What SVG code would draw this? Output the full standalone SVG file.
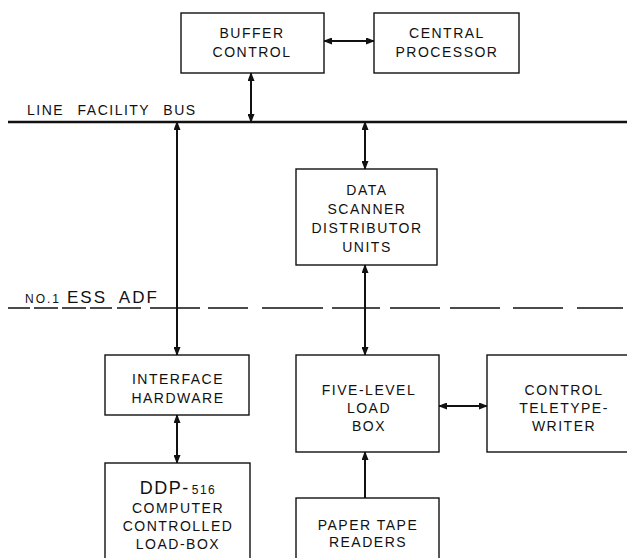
<svg xmlns="http://www.w3.org/2000/svg" width="627" height="558" viewBox="0 0 627 558">
<style>
.box{fill:#fff;stroke:#111;stroke-width:1.4}
.t{font-family:"Liberation Sans",Arial,sans-serif;font-size:14px;letter-spacing:1.5px;fill:#111;text-anchor:middle}
.lbl{font-family:"Liberation Sans",Arial,sans-serif;fill:#111;letter-spacing:1.5px}
.c{stroke:#111;stroke-width:2;fill:none}
.bus{stroke:#111;stroke-width:2.4;fill:none}
.dash{stroke:#111;stroke-width:1.5;fill:none}
</style>
<defs>
<marker id="ah" markerUnits="userSpaceOnUse" markerWidth="9" markerHeight="7" refX="8" refY="3.5" orient="auto-start-reverse">
<path d="M0,0 L9,3.5 L0,7 z" fill="#111"/>
</marker>
</defs>
<rect width="627" height="558" fill="#fff"/>
<g id="line-facility-bus">
<line class="bus" x1="8" y1="122" x2="627" y2="122"/>
<text class="lbl" x="27" y="115" font-size="14" word-spacing="8">LINE FACILITY BUS</text>
</g>
<g id="ess-adf-boundary">
<path class="dash" d="M8,308 H30 M34,308 H58 M62,308 H86 M90,308 H112 M117,308 H141 M150,308 H200 M208,308 H248 M262,308 H323 M332,308 H380 M390,308 H440 M450,308 H500 M513,308 H563 M577,308 H623"/>
<text class="lbl" x="25" y="303"><tspan font-size="12" letter-spacing="2">NO.1</tspan><tspan font-size="17" dx="6" letter-spacing="2" word-spacing="6">ESS ADF</tspan></text>
</g>
<g id="connectors">
<line class="c" x1="324" y1="41" x2="374" y2="41" marker-start="url(#ah)" marker-end="url(#ah)"/>
<line class="c" x1="251" y1="73" x2="251" y2="122" marker-start="url(#ah)" marker-end="url(#ah)"/>
<line class="c" x1="177" y1="122" x2="177" y2="355" marker-start="url(#ah)" marker-end="url(#ah)"/>
<line class="c" x1="365" y1="122" x2="365" y2="169" marker-start="url(#ah)" marker-end="url(#ah)"/>
<line class="c" x1="365" y1="265" x2="365" y2="355" marker-start="url(#ah)" marker-end="url(#ah)"/>
<line class="c" x1="439" y1="406" x2="487" y2="406" marker-start="url(#ah)" marker-end="url(#ah)"/>
<line class="c" x1="177" y1="415" x2="177" y2="463" marker-start="url(#ah)" marker-end="url(#ah)"/>
<line class="c" x1="365" y1="498" x2="365" y2="452" marker-end="url(#ah)"/>
</g>
<g id="buffer-control">
<rect class="box" x="181" y="13" width="143" height="60"/>
<text class="t" x="252" y="38">BUFFER</text>
<text class="t" x="252" y="57">CONTROL</text>
</g>
<g id="central-processor">
<rect class="box" x="374" y="13" width="145" height="60"/>
<text class="t" x="447" y="38">CENTRAL</text>
<text class="t" x="447" y="57">PROCESSOR</text>
</g>
<g id="data-scanner">
<rect class="box" x="296" y="169" width="141" height="96"/>
<text class="t" x="367" y="195">DATA</text>
<text class="t" x="367" y="214">SCANNER</text>
<text class="t" x="367" y="233">DISTRIBUTOR</text>
<text class="t" x="367" y="252">UNITS</text>
</g>
<g id="interface-hardware">
<rect class="box" x="105" y="355" width="144" height="60"/>
<text class="t" x="178" y="384">INTERFACE</text>
<text class="t" x="178" y="403">HARDWARE</text>
</g>
<g id="five-level-load-box">
<rect class="box" x="296" y="355" width="143" height="97"/>
<text class="t" x="369" y="395">FIVE-LEVEL</text>
<text class="t" x="369" y="413">LOAD</text>
<text class="t" x="369" y="431">BOX</text>
</g>
<g id="control-teletypewriter">
<rect class="box" x="487" y="355" width="160" height="97"/>
<text class="t" x="564" y="395">CONTROL</text>
<text class="t" x="564" y="413">TELETYPE-</text>
<text class="t" x="564" y="431">WRITER</text>
</g>
<g id="ddp-516">
<rect class="box" x="105" y="463" width="145" height="110"/>
<text class="t" x="178" y="494"><tspan font-size="18">DDP-</tspan><tspan font-size="12" dx="2">516</tspan></text>
<text class="t" x="178" y="513">COMPUTER</text>
<text class="t" x="178" y="531">CONTROLLED</text>
<text class="t" x="178" y="549">LOAD-BOX</text>
</g>
<g id="paper-tape-readers">
<rect class="box" x="296" y="498" width="143" height="80"/>
<text class="t" x="368" y="530">PAPER TAPE</text>
<text class="t" x="368" y="547">READERS</text>
</g>
</svg>
